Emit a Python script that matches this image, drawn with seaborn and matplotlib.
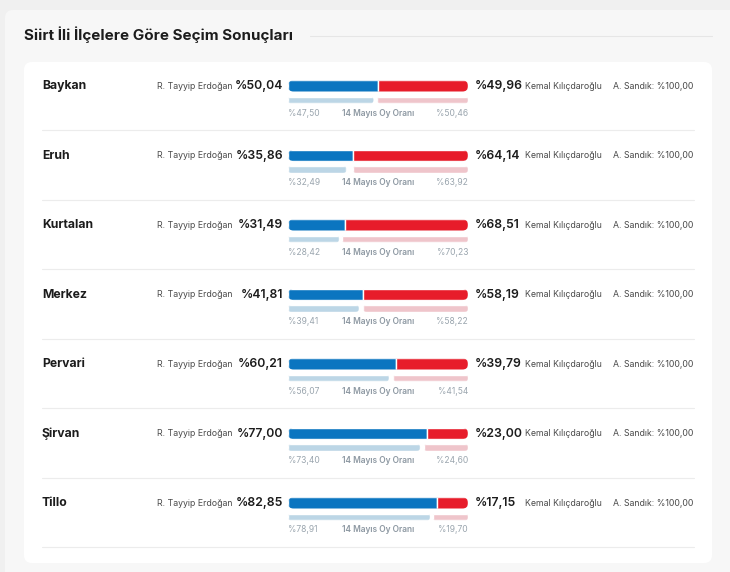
import seaborn as sns
import pandas as pd
import matplotlib.pyplot as plt
from matplotlib.patches import FancyBboxPatch
from matplotlib.lines import Line2D
from matplotlib.transforms import IdentityTransform, blended_transform_factory

# data
ilceler = ["Baykan", "Eruh", "Kurtalan", "Merkez", "Pervari", "Şirvan", "Tillo"]
erdogan = [50.04, 35.86, 31.49, 41.81, 60.21, 77.00, 82.85]
kilicdaroglu = [49.96, 64.14, 68.51, 58.19, 39.79, 23.00, 17.15]
erdogan_14 = [47.50, 32.49, 28.42, 39.41, 56.07, 73.40, 78.91]
kilicdaroglu_14 = [50.46, 63.92, 70.23, 58.22, 41.54, 24.60, 19.70]
sandik = [100.00] * 7

title = "Siirt İli İlçelere Göre Seçim Sonuçları"
aday1 = "R. Tayyip Erdoğan"
aday2 = "Kemal Kılıçdaroğlu"

df = pd.DataFrame({"ilce": ilceler, "e": erdogan, "k": kilicdaroglu,
                   "e14": erdogan_14, "k14": kilicdaroglu_14})

def pct(v):
    return "%" + f"{v:.2f}".replace(".", ",")

sns.set_theme(style="white")
plt.rcParams['font.family'] = ['Inter', 'DejaVu Sans']

W, H = 730, 572
fig = plt.figure(figsize=(W / 100, H / 100), dpi=100)
fig.patch.set_facecolor("#f0f0f0")

BLUE, RED = "#0b75c0", "#e71c2a"
LBLUE, LRED = "#bcd6e6", "#efc5cb"

# background panels (pixel coords, y from top)
def card(x0, y0, x1, y1, fc, r):
    p = FancyBboxPatch((x0, H - y1), x1 - x0, y1 - y0,
                       boxstyle=f"round,pad=0,rounding_size={r}",
                       transform=IdentityTransform(), fc=fc, ec="none", zorder=0)
    fig.add_artist(p)

card(5, 10, 745, 590, "#f7f7f7", 8)
card(24, 62, 712, 563, "white", 8)

fig.text(24 / W, 1 - 35 / H, title, fontsize=10.9, fontweight="bold",
         color="#1c1c1c", va="center", ha="left")
fig.add_artist(Line2D([310 / W, 712 / W], [1 - 36 / H] * 2, color="#e6e6e6", lw=0.8))

# bar axes
P, y0 = 69.5, 86
n = len(ilceler)
bx0, bx1 = 288, 468

def bar_axes(shift):
    top = y0 - P / 2 + shift
    bot = y0 + (n - 0.5) * P + shift
    return fig.add_axes([bx0 / W, 1 - bot / H, (bx1 - bx0) / W, (bot - top) / H])

ax_b = bar_axes(0)
ax_r = bar_axes(0)
ax_lb = bar_axes(14)
ax_lr = bar_axes(14)

sns.barplot(data=df, x="e", y="ilce", orient="h", color=BLUE, width=0.16,
            saturation=1, errorbar=None, ax=ax_b)
sns.barplot(data=df, x="k", y="ilce", orient="h", color=RED, width=0.16,
            saturation=1, errorbar=None, ax=ax_r)
sns.barplot(data=df, x="e14", y="ilce", orient="h", color=LBLUE, width=0.1,
            saturation=1, errorbar=None, ax=ax_lb)
sns.barplot(data=df, x="k14", y="ilce", orient="h", color=LRED, width=0.1,
            saturation=1, errorbar=None, ax=ax_lr)

for a, inv in [(ax_b, False), (ax_r, True), (ax_lb, False), (ax_lr, True)]:
    a.set_xlim((100, 0) if inv else (0, 100))
    a.set_ylim(n - 0.5, -0.5)
    a.axis("off")

def clip_round(a, patch, full):
    x, y, w, h = patch.get_x(), patch.get_y(), patch.get_width(), patch.get_height()
    xs = [0, 100] if full else [x, x + w]
    p0 = a.transData.transform((xs[0], y))
    p1 = a.transData.transform((xs[1], y + h))
    lx, rx = sorted([p0[0], p1[0]])
    ly, ry = sorted([p0[1], p1[1]])
    clip = FancyBboxPatch((lx, ly), rx - lx, ry - ly,
                          boxstyle=f"round,pad=0,rounding_size={(ry - ly) / 2}",
                          transform=IdentityTransform(), fc="none", ec="none")
    patch.set_clip_path(clip)

for a in (ax_b, ax_r):
    for p in a.patches:
        clip_round(a, p, True)
for a in (ax_lb, ax_lr):
    for p in a.patches:
        clip_round(a, p, False)

# row texts
tr = blended_transform_factory(fig.transFigure, ax_b.transData)
for i, name in enumerate(ilceler):
    fig.text(42 / W, i, name, transform=tr, fontsize=8.8, fontweight="bold",
             color="#1c1c1c", va="center", ha="left")
    fig.text(232 / W, i, aday1, transform=tr, fontsize=6.3, color="#4a4a4a",
             va="center", ha="right")
    fig.text(283 / W, i, pct(erdogan[i]), transform=tr, fontsize=8.8,
             fontweight="semibold", color="#1c1c1c", va="center", ha="right")
    fig.text(475 / W, i, pct(kilicdaroglu[i]), transform=tr, fontsize=8.8,
             fontweight="semibold", color="#1c1c1c", va="center", ha="left")
    fig.text(525 / W, i, aday2, transform=tr, fontsize=6.3, color="#4a4a4a",
             va="center", ha="left")
    fig.text(613 / W, i, "A. Sandık: " + pct(sandik[i]), transform=tr,
             fontsize=6.3, color="#4a4a4a", va="center", ha="left")
    ly = i + 27 / P
    fig.text(bx0 / W, ly, pct(erdogan_14[i]), transform=tr, fontsize=6.1,
             color="#9aa5ae", va="center", ha="left")
    fig.text((bx0 + bx1) / 2 / W, ly, "14 Mayıs Oy Oranı", transform=tr,
             fontsize=6.0, fontweight="semibold", color="#8d98a2", va="center", ha="center")
    fig.text(bx1 / W, ly, pct(kilicdaroglu_14[i]), transform=tr, fontsize=6.1,
             color="#9aa5ae", va="center", ha="right")
    sy = i + 44 / P
    fig.add_artist(Line2D([42 / W, 694 / W], [sy, sy], transform=tr,
                          color="#ececec", lw=0.8))

fig.savefig("out.png", dpi=100)
